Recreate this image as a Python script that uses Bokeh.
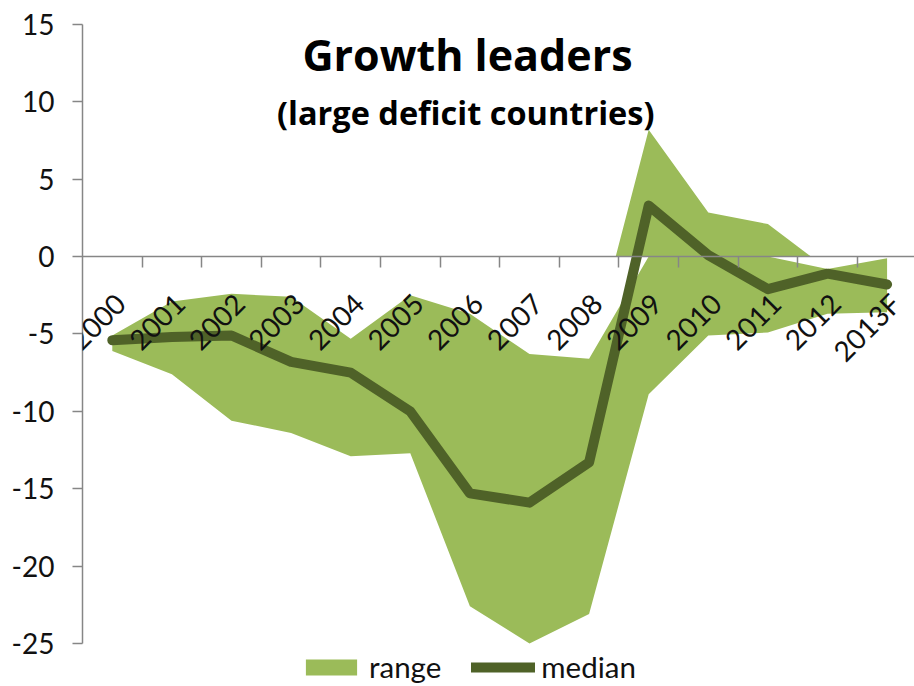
import numpy as np
from bokeh.plotting import figure
from bokeh.models import (Range1d, LinearAxis, FixedTicker, Label, LabelSet,
                          Legend, LegendItem, CustomJSTickFormatter,
                          ColumnDataSource)
from bokeh.core.properties import value
from bokeh.embed import file_html
from bokeh.resources import INLINE

# ---- data ----
years = ["2000", "2001", "2002", "2003", "2004", "2005", "2006",
         "2007", "2008", "2009", "2010", "2011", "2012", "2013F"]
upper = [-5.1, -2.9, -2.4, -2.6, -5.3, -2.5, -3.7, -6.3, -6.6, 8.2, 2.85, 2.1, -0.8, -0.1]
lower = [-6.1, -7.6, -10.6, -11.4, -12.9, -12.7, -22.6, -25.0, -23.1, -8.9, -5.1, -4.9, -3.7, -3.6]
median = [-5.4, -5.2, -5.1, -6.8, -7.5, -10.0, -15.3, -15.9, -13.3, 3.3, 0.1, -2.1, -1.1, -1.8]
y_ticks = [-25, -20, -15, -10, -5, 0, 5, 10, 15]

title_text = "Growth leaders"
subtitle_text = "(large deficit countries)"

AREA = "#9BBB59"
LINE = "#4F6228"
AXIS = "#868686"
FONT = "Lato"

x = np.arange(len(years), dtype=float)

p = figure(width=914, height=686, output_backend="svg", toolbar_location=None,
           x_range=Range1d(-0.5, 13.46), y_range=Range1d(-27.78, 15),
           x_axis_location=None,
           min_border_left=82, min_border_right=0,
           min_border_top=24, min_border_bottom=0)
p.grid.visible = False
p.outline_line_color = None
p.background_fill_color = "white"

# range band: lower .. min(upper, 0)
band_top = np.minimum(np.array(upper), 0.0)
r_range = p.varea(x=x, y1=lower, y2=band_top, fill_color=AREA)

# positive part of the upper series (area between 0 and upper where upper > 0)
xs, ys = [], []
for i in range(len(x)):
    if i > 0:
        a, b = upper[i - 1], upper[i]
        if (a < 0 < b) or (a > 0 > b):
            t = a / (a - b)
            xs.append(x[i - 1] + t)
            ys.append(0.0)
    xs.append(x[i])
    ys.append(max(upper[i], 0.0))
p.varea(x=xs, y1=0, y2=ys, fill_color=AREA)

# median line
r_med = p.line(x=x, y=median, line_color=LINE, line_width=10,
               line_join="round", line_cap="round")

# y axis
ya = p.yaxis[0]
ya.ticker = FixedTicker(ticks=y_ticks)
ya.major_label_overrides = {t: str(t) for t in y_ticks}
ya.bounds = (-25, 15)
ya.axis_line_color = AXIS
ya.axis_line_width = 1.5
ya.major_tick_line_color = AXIS
ya.major_tick_line_width = 1.5
ya.major_tick_out = 10
ya.major_tick_in = 0
ya.minor_tick_line_color = None
ya.major_label_text_font = FONT
ya.major_label_text_font_size = "28px"
ya.major_label_text_color = "#111111"
ya.major_label_standoff = 18

# x axis crossing at y = 0, ticks between categories
xa = LinearAxis(fixed_location=0,
                ticker=FixedTicker(ticks=list(x[:-1] + 0.5)),
                formatter=CustomJSTickFormatter(code="return ''"),
                axis_line_color=AXIS, axis_line_width=1.5,
                major_tick_line_color=AXIS, major_tick_line_width=1.5,
                major_tick_out=11, major_tick_in=0,
                minor_tick_line_color=None)
p.add_layout(xa, "below")

# rotated category labels (annotation, so not clipped by the frame)
lab_src = ColumnDataSource(dict(x=x, y=np.zeros(len(x)), text=years))
p.add_layout(LabelSet(x="x", y="y", text="text", source=lab_src,
                      angle=np.pi / 4, text_align="right",
                      text_baseline="middle", x_offset=8, y_offset=-42,
                      text_font=value(FONT), text_font_size=value("28px"),
                      text_color="#111111"))

# titles
p.add_layout(Label(x=5.96, y=13.06, text=title_text, text_align="center",
                   text_baseline="alphabetic", text_font="Open Sans",
                   text_font_style="bold", text_font_size="43px",
                   text_color="#000000"))
p.add_layout(Label(x=5.93, y=9.32, text=subtitle_text, text_align="center",
                   text_baseline="alphabetic", text_font="Open Sans",
                   text_font_style="bold", text_font_size="32.5px",
                   text_color="#000000"))

legend = Legend(items=[LegendItem(label="range", renderers=[r_range]),
                       LegendItem(label="median", renderers=[r_med])],
                orientation="horizontal", location=(217, 2),
                label_text_font=FONT, label_text_font_size="29.5px",
                label_text_color="#111111",
                glyph_width=64, glyph_height=20, label_standoff=6,
                spacing=30, padding=0, margin=0,
                border_line_color=None, background_fill_alpha=0)
p.add_layout(legend)

open("out.html", "w").write(file_html(p, INLINE))
